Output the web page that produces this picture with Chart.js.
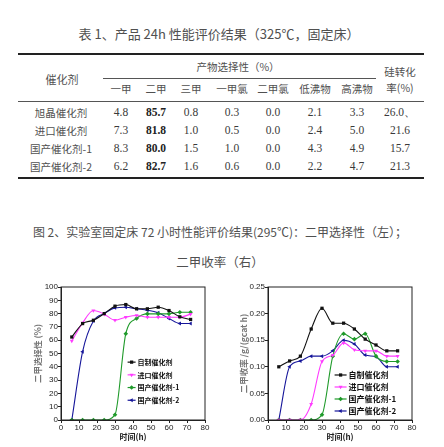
<!DOCTYPE html>
<html>
<head>
<meta charset="utf-8">
<script src="https://cdn.jsdelivr.net/npm/chart.js@4.4.0/dist/chart.umd.min.js"></script>
<style>
	html, body { margin: 0; padding: 0; background: #fff; }
	#page { position: relative; width: 444px; height: 447px; overflow: hidden; font-family: "Noto Sans CJK SC", sans-serif; color: #505050; }
	.t { position: absolute; transform: translate(-50%, -50%); white-space: nowrap; line-height: 1; }
	.cn { font-size: 10.5px; }
	.num { font-family: "Liberation Serif", serif; font-size: 11.5px; color: #3a3a3a; }
	.rule { position: absolute; left: 18px; width: 406px; background: #222; }
	.chart-box { position: absolute; top: 280px; width: 195px; height: 167px; }
</style>
</head>
<body>
<div id="page">
	<div class="t" style="left:219px;top:33px;font-size:13px;">表 1、产品 24h 性能评价结果（325℃，固定床）</div>
	<div class="rule" style="top:53px;height:1.6px;"></div>
	<div class="rule" style="top:78px;height:1px;left:103px;width:273px;background:#555;"></div>
	<div class="rule" style="top:101px;height:1px;background:#555;"></div>
	<div class="rule" style="top:177px;height:1.6px;"></div>
	<div id="table"></div>
	<div class="t" style="left:220px;top:232px;font-size:12px;">图 2、实验室固定床 72 小时性能评价结果(295℃)：二甲选择性（左）；</div>
	<div class="t" style="left:220px;top:262px;font-size:12.5px;">二甲收率（右）</div>
	<div class="chart-box" style="left:20px;"><canvas id="selChart" width="195" height="167"></canvas></div>
	<div class="chart-box" style="left:225px;"><canvas id="yieldChart" width="195" height="167"></canvas></div>
</div>
<script>
// table 1
const tableCatalysts = ['旭晶催化剂', '进口催化剂', '国产催化剂-1', '国产催化剂-2'];
const tableColumns = ['一甲', '二甲', '三甲', '一甲氯', '二甲氯', '低沸物', '高沸物'];
const tableXuJing = ['4.8', '85.7', '0.8', '0.3', '0.0', '2.1', '3.3'];
const tableImported = ['7.3', '81.8', '1.0', '0.5', '0.0', '2.4', '5.0'];
const tableDomestic1 = ['8.3', '80.0', '1.5', '1.0', '0.0', '4.3', '4.9'];
const tableDomestic2 = ['6.2', '82.7', '1.6', '0.6', '0.0', '2.2', '4.7'];
const tableConversion = ['26.0、', '21.6', '15.7', '21.3'];

// figure 2
const timeHours = [6, 12, 18, 24, 30, 36, 42, 48, 54, 60, 66, 72];
const catalystNames = ['自制催化剂', '进口催化剂', '国产催化剂-1', '国产催化剂-2'];
const selfMadeSel = [62.4, 72.5, 75, 80, 85.6, 86.8, 83.6, 83.6, 84.8, 82.3, 77.6, 75.6];
const importedSel = [59.4, 73, 82.3, 79.6, 75, 77.3, 78.6, 77.3, 77.3, 77.3, 77.3, 79.6];
const domestic1Sel = [0, 0, 0, 0, 4, 64.9, 76.4, 79.8, 79.8, 79.8, 81, 81];
const domestic2Sel = [0, 51.4, 74.4, 80, 84.3, 84.8, 83.6, 82.6, 80.6, 76.4, 72.6, 72.6];
const selfMadeYield = [0.100, 0.111, 0.120, 0.171, 0.210, 0.182, 0.182, 0.171, 0.152, 0.141, 0.130, 0.130];
const importedYield = [0, 0, 0, 0.03, 0.11, 0.122, 0.145, 0.132, 0.130, 0.130, 0.120, 0.120];
const domestic1Yield = [0, 0, 0, 0, 0.01, 0.120, 0.162, 0.152, 0.162, 0.120, 0.110, 0.110];
const domestic2Yield = [0, 0.100, 0.111, 0.120, 0.120, 0.130, 0.150, 0.143, 0.122, 0.119, 0.100, 0.100];
const timeTicks = [0, 10, 20, 30, 40, 50, 60, 70, 80];
const selTicks = [0, 10, 20, 30, 40, 50, 60, 70, 80, 90, 100];
const yieldTicks = [0, 0.05, 0.10, 0.15, 0.20, 0.25];

const table = document.getElementById('table');
const colX = [121, 156, 191, 232, 273, 315, 357];
const rowY = [113, 131, 149, 167];

function place(text, x, y, cls, extra) {
	const d = document.createElement('div');
	d.className = 't ' + cls;
	d.style.left = x + 'px';
	d.style.top = y + 'px';
	if (extra) d.style.cssText += extra;
	d.textContent = text;
	table.appendChild(d);
}

place('催化剂', 62, 79, 'cn', 'font-size:11px;');
place('产物选择性（%）', 238, 67, 'cn');
place('硅转化', 400, 72, 'cn');
place('率(%)', 400, 88, 'cn');
tableColumns.forEach((c, i) => place(c, colX[i], 89, 'cn'));

[tableXuJing, tableImported, tableDomestic1, tableDomestic2].forEach((row, r) => {
	place(tableCatalysts[r], 61, rowY[r], 'cn');
	row.forEach((v, i) => place(v, colX[i], rowY[r], 'num', i == 1 ? 'font-weight:bold;color:#222;' : ''));
	place(tableConversion[r], 400, rowY[r], 'num');
});

// box round the plot area
const framePlugin = {
	id: 'frame',
	afterDraw(chart) {
		const { ctx, chartArea: a } = chart;
		ctx.save();
		ctx.strokeStyle = '#222';
		ctx.lineWidth = 1;
		ctx.strokeRect(a.left, a.top, a.right - a.left, a.bottom - a.top);
		ctx.restore();
	}
};

// legend drawn inside the plot
const insideLegend = {
	id: 'insideLegend',
	afterDatasetsDraw(chart, args, opts) {
		const { ctx } = chart;
		const x0 = chart.scales.x.getPixelForValue(opts.atX);
		let y = chart.scales.y.getPixelForValue(opts.atY);
		ctx.save();
		ctx.font = 'bold ' + opts.fontSize + 'px "Noto Sans CJK SC"';
		ctx.textBaseline = 'middle';
		chart.data.datasets.forEach(ds => {
			ctx.strokeStyle = ds.borderColor;
			ctx.fillStyle = ds.borderColor;
			ctx.lineWidth = 1.2;
			ctx.beginPath();
			ctx.moveTo(x0, y);
			ctx.lineTo(x0 + opts.lineLen, y);
			ctx.stroke();
			if (Chart.helpers && Chart.helpers.drawPoint) {
				Chart.helpers.drawPoint(ctx, { pointStyle: ds.pointStyle, rotation: ds.pointRotation || 0, radius: 2.3, borderWidth: 0 }, x0 + opts.lineLen / 2, y);
			}
			ctx.fillStyle = '#111';
			ctx.fillText(ds.label, x0 + opts.lineLen + 2, y);
			y += opts.gap;
		});
		ctx.restore();
	}
};

function points(values) {
	return timeHours.map((t, i) => ({ x: t, y: values[i] }));
}

function makeSets(a, b, c, d) {
	return [
		{ label: catalystNames[0], data: points(a), borderColor: '#111', backgroundColor: '#111', pointStyle: 'rect' },
		{ label: catalystNames[1], data: points(b), borderColor: '#ff3cff', backgroundColor: '#ff3cff', pointStyle: 'triangle', pointRotation: 180 },
		{ label: catalystNames[2], data: points(c), borderColor: '#1f9a2a', backgroundColor: '#1f9a2a', pointStyle: 'rectRot' },
		{ label: catalystNames[3], data: points(d), borderColor: '#16169a', backgroundColor: '#16169a', pointStyle: 'triangle', pointRotation: -90 },
	];
}

function makeOptions(yTicks, yTitle, decimals, yWidth, titlePad, padRight, legend) {
	return {
		responsive: false,
		animation: false,
		layout: { padding: { top: 7, right: padRight, left: 0, bottom: 0 } },
		plugins: { legend: { display: false }, tooltip: { enabled: false }, insideLegend: legend },
		elements: {
			line: { borderWidth: 1.1, cubicInterpolationMode: 'monotone' },
			point: { radius: 2.3, borderWidth: 0 }
		},
		scales: {
			x: {
				type: 'linear', min: 0, max: 80,
				afterBuildTicks: s => { s.ticks = timeTicks.map(v => ({ value: v })); },
				afterFit: s => { s.height = 27; },
				ticks: { padding: 0, color: '#222', font: { size: 8, family: 'Liberation Sans' } },
				grid: { drawOnChartArea: false, tickLength: 3, color: '#222' },
				border: { color: '#222' },
				title: { display: true, text: '时间(h)', color: '#222', font: { size: 8, weight: 'bold', family: 'Noto Sans CJK SC' }, padding: { top: 0, bottom: 5 } }
			},
			y: {
				type: 'linear', min: 0, max: yTicks[yTicks.length - 1],
				afterBuildTicks: s => { s.ticks = yTicks.map(v => ({ value: v })); },
				afterFit: s => { s.width = yWidth; },
				ticks: { padding: 0, color: '#222', font: { size: 8, family: 'Liberation Sans' }, callback: v => v.toFixed(decimals) },
				grid: { drawOnChartArea: false, tickLength: 3, color: '#222' },
				border: { color: '#222' },
				title: { display: true, text: yTitle, color: '#777', font: { size: 8.5, weight: 'bold', family: 'Noto Sans CJK SC' }, padding: { top: titlePad, bottom: 0 } }
			}
		}
	};
}

new Chart(document.getElementById('selChart'), {
	type: 'line',
	data: { datasets: makeSets(selfMadeSel, importedSel, domestic1Sel, domestic2Sel) },
	options: makeOptions(selTicks, '二甲选择性 (%)', 0, 41, 13, 10, { atX: 37, atY: 43.5, lineLen: 8, gap: 12.7, fontSize: 7 }),
	plugins: [framePlugin, insideLegend]
});

new Chart(document.getElementById('yieldChart'), {
	type: 'line',
	data: { datasets: makeSets(selfMadeYield, importedYield, domestic1Yield, domestic2Yield) },
	options: makeOptions(yieldTicks, '二甲收率 /g/(gcat h)', 2, 43, 14, 8, { atX: 37, atY: 0.0846, lineLen: 12, gap: 12, fontSize: 8 }),
	plugins: [framePlugin, insideLegend]
});
</script>
</body>
</html>
